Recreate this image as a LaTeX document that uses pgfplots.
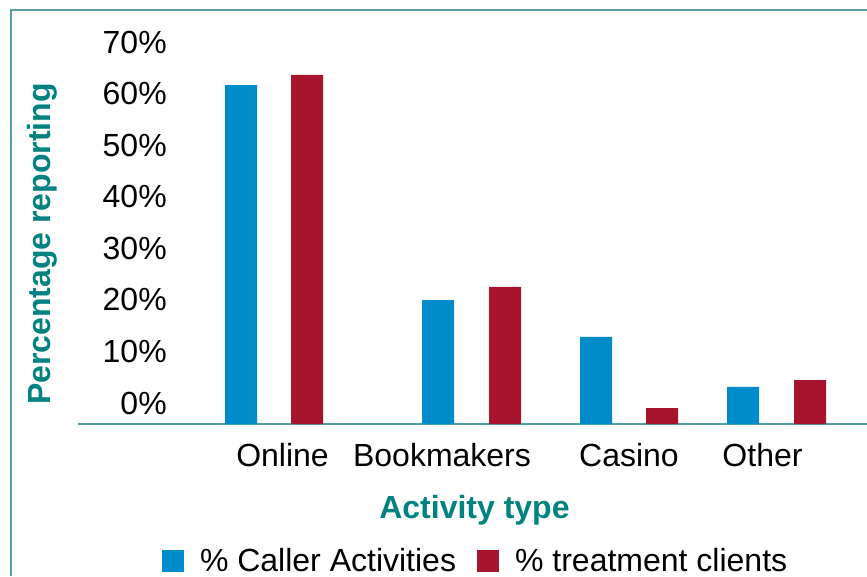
\documentclass[border=0pt]{standalone}
\usepackage{fontspec}
\setmainfont{Liberation Sans}
\usepackage{pgfplots}
\pgfplotsset{compat=1.18}
\definecolor{cblue}{RGB}{0,140,203}
\definecolor{cred}{RGB}{166,20,45}
\definecolor{labteal}{RGB}{0,130,128}
\definecolor{frameteal}{RGB}{88,158,170}
\definecolor{axisteal}{RGB}{72,165,165}
\newcommand{\bigf}{\fontsize{24}{28}\selectfont}
\begin{document}
\begin{tikzpicture}
\path[use as bounding box] (0,0) rectangle (650.25pt,-432pt);
\draw[frameteal, line width=1.9pt] (8.25pt,-432pt) -- (8.25pt,-7.5pt) -- (650.25pt,-7.5pt);
\begin{axis}[
  at={(58.5pt,-318pt)}, anchor=south west, scale only axis,
  width=591.75pt, height=310.5pt,
  xmin=78, xmax=867, ymin=0, ymax=80.28,
  axis x line*=bottom, axis y line*=left,
  x axis line style={axisteal, line width=1.5pt, -},
  y axis line style={draw=none},
  major tick length=0pt,
  ybar, bar width=32,
  xtick={282.5,442,629,762.5},
  xticklabels={Online,Bookmakers,Casino,Other},
  xticklabel style={anchor=base, inner sep=0pt, yshift=-31.5pt, font=\bigf},
  ytick={0,10,...,70},
  yticklabels={0\%,10\%,20\%,30\%,40\%,50\%,60\%,70\%},
  yticklabel style={anchor=base east, inner sep=0pt, xshift=66.75pt, yshift=7.5pt, font=\bigf},
  xlabel={Activity type},
  xlabel style={at={(axis description cs:0.5025,0)}, anchor=base, yshift=-70.5pt, font=\bigf\bfseries, text=labteal},
  ylabel={Percentage reporting},
  ylabel style={at={(axis description cs:-0.03485,0.4348)}, anchor=base, rotate=0, font=\bigf\bfseries, text=labteal},
  legend columns=2,
  legend style={draw=none, fill=none, inner sep=0pt, outer sep=0pt, font=\bigf,
    at={(axis description cs:0.1065,-0.3310)}, anchor=west,
    nodes={inner sep=0pt},
    /tikz/every odd column/.append style={column sep=12pt},
    /tikz/every even column/.append style={column sep=15.75pt}},
  legend image code/.code={\fill[#1] (0pt,-8.25pt) rectangle (16.5pt,8.25pt);},
]
\addplot[fill=cblue, draw=none, bar shift=0pt] coordinates {(241,65.7) (438,24.0) (596,16.9) (743,7.2)};
\addplot[fill=cred, draw=none, bar shift=0pt] coordinates {(307,67.7) (505,26.6) (662,3.1) (810,8.5)};
\legend{\% Caller Activities, \% treatment clients}
\end{axis}
\end{tikzpicture}
\end{document}
